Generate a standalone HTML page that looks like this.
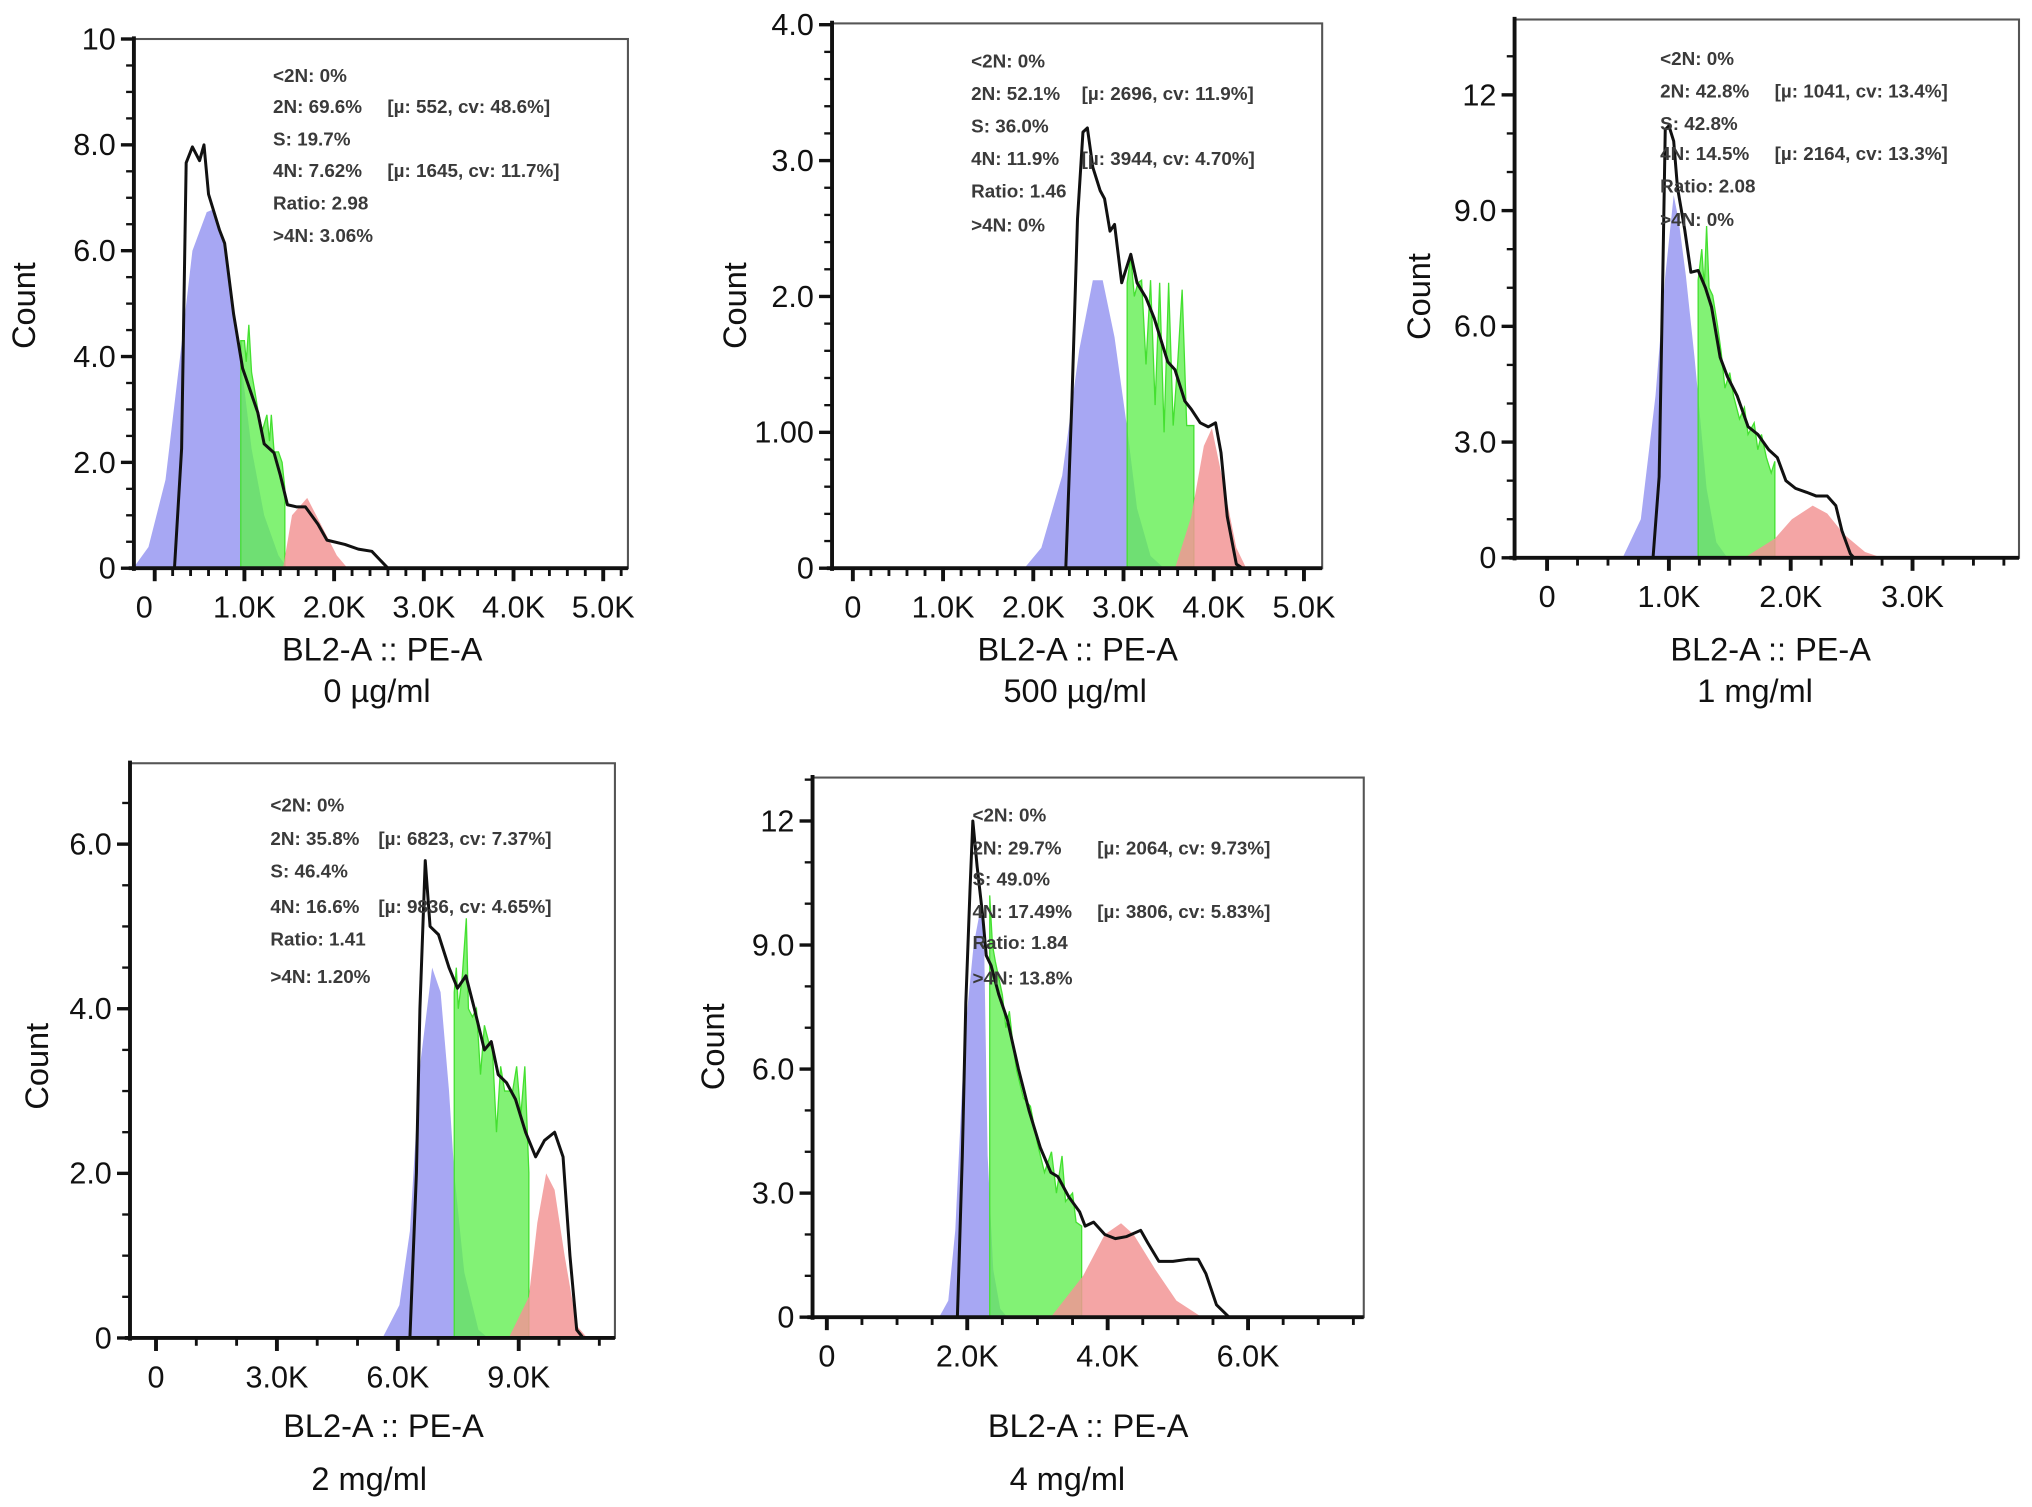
<!DOCTYPE html>
<html><head><meta charset="utf-8"><style>
html,body{margin:0;padding:0;background:#fff;}
svg{display:block;}
text{font-family:"Liberation Sans",Arial,sans-serif;}
.tk{font-size:23.5px;fill:#111;}
.ttl{font-size:25px;fill:#111;}
.ann{font-size:14.5px;fill:#3a3a3a;font-weight:bold;}
</style></head><body>
<svg id="fig" width="2032" height="1507" viewBox="0 0 1563 1159" preserveAspectRatio="none" xmlns="http://www.w3.org/2000/svg"></svg>
<script>
// ---------- Panel 1: 0 µg/ml ----------
const p1Black=[[-0.23,0],[0.22,0],[0.30,2.26],[0.35,7.66],[0.42,7.96],[0.5,7.7],[0.55,8.0],[0.6,7.07],[0.72,6.4],[0.78,6.14],[0.88,4.8],[0.98,3.78],[1.15,2.94],[1.22,2.35],[1.33,2.18],[1.4,1.76],[1.48,1.2],[1.58,1.16],[1.68,1.16],[1.82,0.83],[1.92,0.53],[2.12,0.45],[2.27,0.36],[2.42,0.32],[2.6,0],[5.3,0]];
const p1Blue=[[-0.24,0],[-0.07,0.4],[0.12,1.67],[0.28,3.95],[0.42,6.0],[0.58,6.73],[0.65,6.78],[0.75,6.3],[0.88,4.8],[0.96,3.95],[1.08,2.26],[1.22,1.0],[1.38,0.24],[1.48,0]];
const p1Green=[[0.96,4.3],[1.0,4.3],[1.02,3.9],[1.05,4.6],[1.08,3.7],[1.12,3.3],[1.15,3.0],[1.2,2.6],[1.25,2.9],[1.28,2.4],[1.3,2.9],[1.33,2.2],[1.38,2.2],[1.42,2.0],[1.45,1.5]];
const p1Red=[[1.43,0],[1.53,1.0],[1.7,1.33],[1.88,0.74],[2.03,0.24],[2.15,0]];
const p1XTicks=[0,1,2,3,4,5];const p1XLabels=["0","1.0K","2.0K","3.0K","4.0K","5.0K"];
const p1YTicks=[0,2,4,6,8,10];const p1YLabels=["0","2.0","4.0","6.0","8.0","10"];
const p1Ann=[["<2N: 0%",""],["2N: 69.6%","[µ: 552, cv: 48.6%]"],["S: 19.7%",""],["4N: 7.62%","[µ: 1645, cv: 11.7%]"],["Ratio: 2.98",""],[">4N: 3.06%",""]];

// ---------- Panel 2: 500 µg/ml ----------
const p2Black=[[-0.23,0],[2.36,0],[2.43,1.26],[2.49,2.57],[2.55,3.21],[2.6,3.24],[2.66,2.95],[2.74,2.78],[2.79,2.72],[2.85,2.48],[2.9,2.53],[2.98,2.1],[3.08,2.31],[3.15,2.1],[3.25,1.99],[3.34,1.84],[3.49,1.52],[3.57,1.46],[3.68,1.23],[3.75,1.17],[3.85,1.07],[3.94,1.04],[4.02,1.07],[4.08,0.85],[4.15,0.38],[4.25,0.03],[4.32,0],[5.2,0]];
const p2Blue=[[1.9,0],[2.09,0.15],[2.32,0.68],[2.51,1.61],[2.66,2.12],[2.77,2.12],[2.9,1.7],[3.04,1.03],[3.15,0.44],[3.3,0.09],[3.45,0]];
const p2Green=[[3.04,2.1],[3.08,2.3],[3.12,2.0],[3.16,2.1],[3.2,2.12],[3.25,1.5],[3.3,2.12],[3.35,1.2],[3.4,2.1],[3.45,1.0],[3.5,2.1],[3.55,1.05],[3.6,1.5],[3.65,2.05],[3.7,1.05],[3.78,1.05]];
const p2Red=[[3.57,0],[3.75,0.38],[3.89,0.9],[3.98,1.03],[4.09,0.68],[4.25,0.15],[4.36,0]];
const p2XTicks=[0,1,2,3,4,5];const p2XLabels=["0","1.0K","2.0K","3.0K","4.0K","5.0K"];
const p2YTicks=[0,1,2,3,4];const p2YLabels=["0","1.00","2.0","3.0","4.0"];
const p2Ann=[["<2N: 0%",""],["2N: 52.1%","[µ: 2696, cv: 11.9%]"],["S: 36.0%",""],["4N: 11.9%","[µ: 3944, cv: 4.70%]"],["Ratio: 1.46",""],[">4N: 0%",""]];

// ---------- Panel 3: 1 mg/ml ----------
const p3Black=[[-0.26,0],[0.87,0],[0.92,2.1],[0.95,7.3],[0.97,11.1],[1.0,11.2],[1.04,10.8],[1.07,9.6],[1.13,8.5],[1.18,7.4],[1.24,7.45],[1.3,7.0],[1.35,6.5],[1.42,5.2],[1.48,4.7],[1.56,4.2],[1.65,3.4],[1.73,3.2],[1.82,2.8],[1.89,2.6],[1.96,2.0],[2.04,1.8],[2.13,1.7],[2.21,1.6],[2.3,1.6],[2.37,1.35],[2.42,0.7],[2.49,0.1],[2.52,0],[3.9,0]];
const p3Blue=[[0.62,0],[0.77,1.0],[0.89,4.2],[0.97,7.3],[1.04,9.4],[1.08,8.75],[1.14,7.3],[1.21,5.2],[1.24,4.2],[1.31,1.8],[1.39,0.4],[1.48,0]];
const p3Green=[[1.24,7.2],[1.27,8.0],[1.29,7.0],[1.31,8.6],[1.33,7.0],[1.36,6.8],[1.4,6.0],[1.43,5.3],[1.46,4.4],[1.5,4.8],[1.53,4.2],[1.58,3.6],[1.62,3.9],[1.65,3.2],[1.7,3.5],[1.73,2.8],[1.76,3.2],[1.8,2.6],[1.84,2.2],[1.87,2.5]];
const p3Red=[[1.62,0],[1.87,0.5],[2.01,1.0],[2.18,1.35],[2.3,1.15],[2.44,0.6],[2.61,0.15],[2.75,0]];
const p3XTicks=[0,1,2,3];const p3XLabels=["0","1.0K","2.0K","3.0K"];
const p3YTicks=[0,3,6,9,12];const p3YLabels=["0","3.0","6.0","9.0","12"];
const p3Ann=[["<2N: 0%",""],["2N: 42.8%","[µ: 1041, cv: 13.4%]"],["S: 42.8%",""],["4N: 14.5%","[µ: 2164, cv: 13.3%]"],["Ratio: 2.08",""],[">4N: 0%",""]];

// ---------- Panel 4: 2 mg/ml ----------
const p4Black=[[-0.6,0],[6.3,0],[6.46,2.0],[6.55,4.0],[6.68,5.8],[6.8,5.0],[7.01,4.9],[7.27,4.5],[7.48,4.25],[7.69,4.4],[7.9,4.0],[8.15,3.5],[8.32,3.6],[8.49,3.2],[8.7,3.1],[8.92,2.9],[9.17,2.5],[9.42,2.2],[9.64,2.4],[9.89,2.5],[10.1,2.2],[10.27,1.0],[10.44,0.1],[10.6,0],[11.4,0]];
const p4Blue=[[5.62,0],[6.04,0.4],[6.3,1.3],[6.55,3.3],[6.85,4.5],[7.06,4.2],[7.27,3.0],[7.4,2.0],[7.65,0.8],[8.0,0.1],[8.24,0]];
const p4Green=[[7.4,4.2],[7.45,4.5],[7.5,4.0],[7.6,4.4],[7.7,5.1],[7.75,4.0],[7.85,3.9],[7.95,4.0],[8.05,3.2],[8.15,3.8],[8.25,3.6],[8.35,3.5],[8.45,2.5],[8.55,3.3],[8.65,3.0],[8.75,3.0],[8.85,3.0],[8.95,3.3],[9.05,2.7],[9.15,3.3],[9.25,2.0]];
const p4Red=[[8.75,0],[9.25,0.5],[9.46,1.4],[9.68,2.0],[9.89,1.8],[10.14,1.0],[10.44,0.15],[10.7,0]];
const p4XTicks=[0,3,6,9];const p4XLabels=["0","3.0K","6.0K","9.0K"];
const p4YTicks=[0,2,4,6];const p4YLabels=["0","2.0","4.0","6.0"];
const p4Ann=[["<2N: 0%",""],["2N: 35.8%","[µ: 6823, cv: 7.37%]"],["S: 46.4%",""],["4N: 16.6%","[µ: 9836, cv: 4.65%]"],["Ratio: 1.41",""],[">4N: 1.20%",""]];

// ---------- Panel 5: 4 mg/ml ----------
const p5Black=[[-0.2,0],[1.86,0],[1.93,3.9],[1.98,7.6],[2.04,10.4],[2.08,12.0],[2.14,10.9],[2.22,9.7],[2.27,8.75],[2.34,8.5],[2.45,7.8],[2.57,7.2],[2.73,6.0],[2.88,5.0],[3.04,4.1],[3.19,3.5],[3.29,3.4],[3.45,2.9],[3.6,2.55],[3.68,2.2],[3.8,2.3],[3.96,2.0],[4.11,1.9],[4.27,1.95],[4.47,2.1],[4.57,1.8],[4.73,1.35],[4.93,1.35],[5.14,1.4],[5.29,1.4],[5.4,1.05],[5.55,0.3],[5.73,0],[7.6,0]];
const p5Blue=[[1.6,0],[1.73,0.4],[1.83,2.1],[1.96,6.7],[2.09,9.0],[2.19,9.9],[2.24,9.0],[2.29,3.9],[2.37,1.15],[2.47,0.2],[2.57,0]];
const p5Green=[[2.32,10.2],[2.36,9.0],[2.4,8.6],[2.45,8.2],[2.5,7.8],[2.55,7.0],[2.6,7.4],[2.65,6.6],[2.7,6.0],[2.8,5.3],[2.9,5.1],[3.0,4.2],[3.1,3.5],[3.2,4.0],[3.27,3.0],[3.35,3.9],[3.4,2.8],[3.5,3.0],[3.55,2.3],[3.63,2.2]];
const p5Red=[[3.19,0],[3.65,1.0],[3.96,2.0],[4.19,2.27],[4.37,2.0],[4.68,1.15],[4.98,0.4],[5.34,0]];
const p5XTicks=[0,2,4,6];const p5XLabels=["0","2.0K","4.0K","6.0K"];
const p5YTicks=[0,3,6,9,12];const p5YLabels=["0","3.0","6.0","9.0","12"];
const p5Ann=[["<2N: 0%",""],["2N: 29.7%","[µ: 2064, cv: 9.73%]"],["S: 49.0%",""],["4N: 17.49%","[µ: 3806, cv: 5.83%]"],["Ratio: 1.84",""],[">4N: 13.8%",""]];

const NS="http://www.w3.org/2000/svg";
const svg=document.getElementById('fig');
function mk(tag,parent,attrs){const e=document.createElementNS(NS,tag);for(const k in attrs)e.setAttribute(k,attrs[k]);parent.appendChild(e);return e;}

function panel(c){
  const g=mk('g',svg,{});
  
  
  const sx=v=>c.x0+v*c.kx, sy=v=>c.y0-v*c.ky;
  const fr=mk('rect',g,{x:c.L,y:c.T,width:c.R-c.L,height:c.y0-c.T,fill:'none',stroke:'#555','stroke-width':1.6});
  
  
  const clip=mk('clipPath',g,{id:c.id+'clip'});mk('rect',clip,{x:c.L,y:c.T,width:c.R-c.L,height:c.y0-c.T});
  const pg=mk('g',g,{'clip-path':'url(#'+c.id+'clip)'});
  const area=(pts)=>'M'+pts.map(p=>sx(p[0]).toFixed(1)+','+sy(p[1]).toFixed(1)).join('L');
  const b=mk('path',pg,{d:area(c.blue)+'Z',fill:'#a7a7f3'});
  
  
  const gp=[[c.green[0][0],0]].concat(c.green,[[c.green[c.green.length-1][0],0]]);
  const gr=mk('path',pg,{d:area(gp)+'Z',fill:'#5fee4e','fill-opacity':0.78,stroke:'#44e030','stroke-width':1});
  
  
  const r=mk('path',pg,{d:area(c.red)+'Z',fill:'#f29595','fill-opacity':0.85});
  
  
  const ln=mk('path',pg,{d:area(c.black),fill:'none',stroke:'#111','stroke-width':2.3,'stroke-linejoin':'round'});
  
  
  const ax=mk('line',g,{x1:c.L-4,y1:c.y0,x2:c.R,y2:c.y0,stroke:'#111','stroke-width':3});
  
  
  const ay=mk('line',g,{x1:c.L,y1:c.T-2,x2:c.L,y2:c.y0+2,stroke:'#111','stroke-width':3});
  
  
  const xt=c.xTicks;
  for(let v=xt[0];v<=xt[xt.length-1]+c.xMinor*4+1e-9;v+=c.xMinor){
    const X=sx(v); if(X>c.R-2||X<c.L)continue;
    const major=xt.some(t=>Math.abs(t-v)<1e-6);
    mk('line',g,{x1:X,y1:c.y0,x2:X,y2:c.y0+(major?10:6),stroke:'#111','stroke-width':major?3:2.2});
  }
  xt.forEach((v,i)=>{const t=mk('text',g,{x:sx(v)+(i==0?c.zeroOff:0),y:c.y0+38,'text-anchor':'middle',class:'tk'});t.textContent=c.xLabels[i];
    
    });
  const yt=c.yTicks;
  for(let v=0;sy(v)>=c.T-1;v+=c.yMinor){
    const Y=sy(v);const major=yt.some(t=>Math.abs(t-v)<1e-6);
    mk('line',g,{x1:c.L,y1:Y,x2:c.L-(major?10:6),y2:Y,stroke:'#111','stroke-width':major?2.6:1.8});
  }
  yt.forEach((v,i)=>{const t=mk('text',g,{x:c.L-14,y:sy(v)+8,'text-anchor':'end',class:'tk'});t.textContent=c.yLabels[i];
    
    });
  const yl=mk('text',g,{x:c.cx,y:c.cy,'text-anchor':'middle',class:'ttl',transform:'rotate(-90 '+c.cx+' '+c.cy+')'});yl.textContent='Count';
  
  
  const xl=mk('text',g,{x:c.tx,y:c.ty,'text-anchor':'middle',class:'ttl'});xl.textContent='BL2-A :: PE-A';
  
  
  const sl=mk('text',g,{x:c.sx2,y:c.sy2,'text-anchor':'middle',class:'ttl'});sl.textContent=c.sub;
  
  
  c.ann.forEach((a,i)=>{
    const t=mk('text',g,{x:c.ax,y:c.ay[i]+5,class:'ann'});t.textContent=a[0];
    
    
    if(a[1]){const t2=mk('text',g,{x:c.ax2,y:c.ay[i]+5,class:'ann'});t2.textContent=a[1];
      
      }
  });
}

panel({id:'p1',name:'panel-0-ug-ml',L:103,R:483,T:30,y0:437,x0:119,kx:69,ky:40.7,black:p1Black,blue:p1Blue,green:p1Green,red:p1Red,
  xTicks:p1XTicks,xLabels:p1XLabels,xMinor:0.2,zeroOff:-8,yTicks:p1YTicks,yLabels:p1YLabels,yMinor:0.5,
  cx:27,cy:235,tx:294,ty:508,sx2:290,sy2:540,sub:'0 µg/ml',ann:p1Ann,ax:210,ax2:298,ay:[58,82,107,131,156,181]});
panel({id:'p2',name:'panel-500-ug-ml',L:640,R:1017,T:18,y0:437,x0:656,kx:69.4,ky:104.5,black:p2Black,blue:p2Blue,green:p2Green,red:p2Red,
  xTicks:p2XTicks,xLabels:p2XLabels,xMinor:0.2,zeroOff:0,yTicks:p2YTicks,yLabels:p2YLabels,yMinor:0.2,
  cx:574,cy:235,tx:829,ty:508,sx2:827,sy2:540,sub:'500 µg/ml',ann:p2Ann,ax:747,ax2:832,ay:[47,72,97,122,147,173]});
panel({id:'p3',name:'panel-1-mg-ml',L:1165,R:1553,T:15,y0:429,x0:1190,kx:93.7,ky:29.67,black:p3Black,blue:p3Blue,green:p3Green,red:p3Red,
  xTicks:p3XTicks,xLabels:p3XLabels,xMinor:0.25,zeroOff:0,yTicks:p3YTicks,yLabels:p3YLabels,yMinor:1,
  cx:1100,cy:228,tx:1362,ty:508,sx2:1350,sy2:540,sub:'1 mg/ml',ann:p3Ann,ax:1277,ax2:1365,ay:[45,70,95,118,143,169]});
panel({id:'p4',name:'panel-2-mg-ml',L:100,R:473,T:587,y0:1029,x0:120,kx:31,ky:63.3,black:p4Black,blue:p4Blue,green:p4Green,red:p4Red,
  xTicks:p4XTicks,xLabels:p4XLabels,xMinor:1,zeroOff:0,yTicks:p4YTicks,yLabels:p4YLabels,yMinor:0.5,
  cx:37,cy:820,tx:295,ty:1105,sx2:284,sy2:1146,sub:'2 mg/ml',ann:p4Ann,ax:208,ax2:291,ay:[619,645,670,697,722,751]});
panel({id:'p5',name:'panel-4-mg-ml',L:625,R:1049,T:598,y0:1013,x0:636,kx:54,ky:31.8,black:p5Black,blue:p5Blue,green:p5Green,red:p5Red,
  xTicks:p5XTicks,xLabels:p5XLabels,xMinor:0.5,zeroOff:0,yTicks:p5YTicks,yLabels:p5YLabels,yMinor:1,
  cx:557,cy:805,tx:837,ty:1105,sx2:821,sy2:1146,sub:'4 mg/ml',ann:p5Ann,ax:748,ax2:844,ay:[627,652,676,701,725,752]});
</script>
</body></html>
